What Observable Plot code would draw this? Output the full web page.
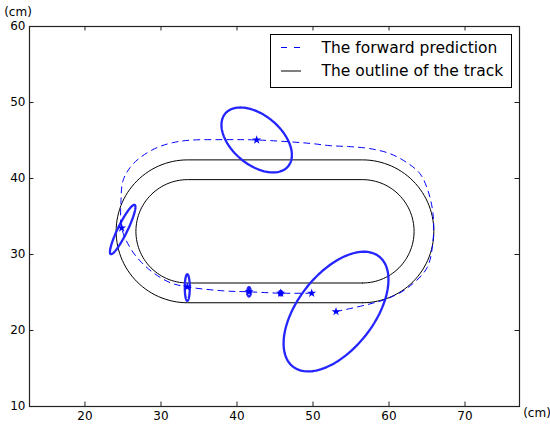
<!DOCTYPE html>
<html><head><meta charset="utf-8">
<script src="https://cdn.jsdelivr.net/npm/d3@7"></script>
<script src="https://cdn.jsdelivr.net/npm/@observablehq/plot@0.6"></script>
<style>body{margin:0;background:#fff;font-family:"DejaVu Sans",sans-serif}</style>
</head><body><div id="chart"></div>
<script>
// axis ticks (cm)
const xTicks = [20, 30, 40, 50, 60, 70];
const yTicks = [10, 20, 30, 40, 50, 60];

// forward prediction path (cm)
const predX = [53.03, 57.50, 60.13, 62.50, 65.00, 65.79, 65.79, 65.13, 64.08, 62.37, 60.13, 57.50, 54.87, 52.24, 49.61, 42.59, 38.16, 33.82, 31.58, 29.47, 27.24, 25.92, 25.00, 24.74, 24.83, 25.92, 27.24, 28.95, 31.18, 33.46, 38.16, 41.58, 45.75, 49.83];
const predY = [22.49, 23.50, 24.33, 25.65, 28.25, 31.81, 35.36, 38.39, 40.63, 42.08, 43.27, 43.93, 44.19, 44.32, 44.62, 45.07, 45.11, 45.04, 44.72, 44.06, 42.74, 41.42, 39.71, 37.08, 33.48, 30.92, 29.17, 27.63, 26.31, 25.74, 25.22, 25.09, 24.91, 24.91];

// predicted positions (stars)
const starX = [53.03, 42.59, 24.83, 33.46, 41.58, 45.75, 49.83];
const starY = [22.49, 45.07, 33.48, 25.74, 25.09, 24.91, 24.91];

// uncertainty ellipses: centre, semi-axes (cm), orientation (deg)
const ellCX = [42.59, 24.96, 33.46, 41.58, 45.75, 53.03];
const ellCY = [45.07, 33.29, 25.65, 25.09, 24.91, 22.49];
const ellA = [5.4, 3.6, 1.75, 0.62, 0.3, 9.2];
const ellB = [3.25, 0.63, 0.33, 0.22, 0.22, 5.0];
const ellAngle = [-40, 64, 90, 90, 90, 52];

// track geometry (cm): centres of the two end arcs, outer / inner radius
const trackCenterX = [33.5, 56.5];
const trackCenterY = 33.05;
const trackRadius = [9.4, 6.8];

// ---- build tables ----
const pred = predX.map((x, i) => ({x, y: predY[i]}));
const stars = starX.map((x, i) => ({x, y: starY[i]}));

const rad = Math.PI / 180;
const ellPts = [];
ellCX.forEach((cx, k) => {
  const th = ellAngle[k] * rad;
  for (let t = 0; t <= 360; t += 3) {
    const u = t * rad;
    const px = ellA[k] * Math.cos(u), py = ellB[k] * Math.sin(u);
    ellPts.push({e: k, x: cx + px * Math.cos(th) - py * Math.sin(th), y: ellCY[k] + px * Math.sin(th) + py * Math.cos(th)});
  }
});

const trackPts = [];
trackRadius.forEach((r, k) => {
  for (let a = -90; a <= 90; a += 3) trackPts.push({ring: k, x: trackCenterX[1] + r * Math.cos(a * rad), y: trackCenterY + r * Math.sin(a * rad)});
  for (let a = 90; a <= 270; a += 3) trackPts.push({ring: k, x: trackCenterX[0] + r * Math.cos(a * rad), y: trackCenterY + r * Math.sin(a * rad)});
  trackPts.push({ring: k, x: trackCenterX[1], y: trackCenterY - r});
});

const W = 550, H = 430;
const mTop = 26, mBottom = 24, mLeft = 29, mRight = 31;
const innerH = H - mTop - mBottom, innerW = W - mLeft - mRight;
const tick = 4.5;
const blue = "#0000ff";
const ellBlue = "#2525ff";

const plot = Plot.plot({
  width: W, height: H,
  marginTop: mTop, marginBottom: mBottom, marginLeft: mLeft, marginRight: mRight,
  style: {fontFamily: "DejaVu Sans", fontSize: "12px", color: "#000", background: "#fff"},
  x: {domain: [12.7, 77.17], label: null},
  y: {domain: [10, 60], label: null},
  marks: [
    Plot.line(trackPts, {x: "x", y: "y", z: "ring", stroke: "#000", strokeWidth: 1}),
    Plot.line(ellPts, {x: "x", y: "y", z: "e", stroke: ellBlue, strokeWidth: 2.3}),
    Plot.line(pred, {x: "x", y: "y", stroke: blue, strokeWidth: 1, strokeDasharray: "6,5", curve: "catmull-rom"}),
    Plot.dot(stars, {x: "x", y: "y", symbol: "star", r: 2.8, fill: blue, stroke: "none"}),
    Plot.frame({stroke: "#222", strokeWidth: 1.2}),
    // inward ticks on all four sides
    Plot.tickX(xTicks, {x: d => d, insetTop: innerH - tick, stroke: "#222"}),
    Plot.tickX(xTicks, {x: d => d, insetBottom: innerH - tick, stroke: "#222"}),
    Plot.tickY(yTicks, {y: d => d, insetRight: innerW - tick, stroke: "#222"}),
    Plot.tickY(yTicks, {y: d => d, insetLeft: innerW - tick, stroke: "#222"}),
    Plot.axisX(xTicks, {anchor: "bottom", tickSize: 0, tickPadding: 5, fontSize: 12}),
    Plot.axisY(yTicks, {anchor: "left", tickSize: 0, tickPadding: 4, fontSize: 12})
  ]
});

document.getElementById("chart").appendChild(plot);

// unit labels and legend
const svg = d3.select(plot);
svg.append("text").attr("x", 18).attr("y", 12).attr("text-anchor", "middle").attr("dy", "0.35em")
  .attr("font-size", 12).attr("font-family", "DejaVu Sans").attr("fill", "#000").text("(cm)");
svg.append("text").attr("x", 537).attr("y", 413).attr("text-anchor", "middle").attr("dy", "0.35em")
  .attr("font-size", 12).attr("font-family", "DejaVu Sans").attr("fill", "#000").text("(cm)");

const lg = svg.append("g");
lg.append("rect").attr("x", 270.5).attr("y", 34.5).attr("width", 241).attr("height", 53)
  .attr("fill", "#fff").attr("stroke", "#000").attr("stroke-width", 1);
const entries = [
  {label: "The forward prediction", stroke: blue, dash: "6,7", y: 47.5},
  {label: "The outline of the track", stroke: "#000", dash: null, y: 71}
];
entries.forEach(e => {
  lg.append("line").attr("x1", 281).attr("x2", 301).attr("y1", e.y).attr("y2", e.y)
    .attr("stroke", e.stroke).attr("stroke-width", 1).attr("stroke-dasharray", e.dash);
  lg.append("text").attr("x", 321.5).attr("y", e.y).attr("dy", "0.35em").attr("text-anchor", "start")
    .attr("font-size", 15.5).attr("font-family", "DejaVu Sans").attr("fill", "#000").text(e.label);
});
</script>
</body></html>
